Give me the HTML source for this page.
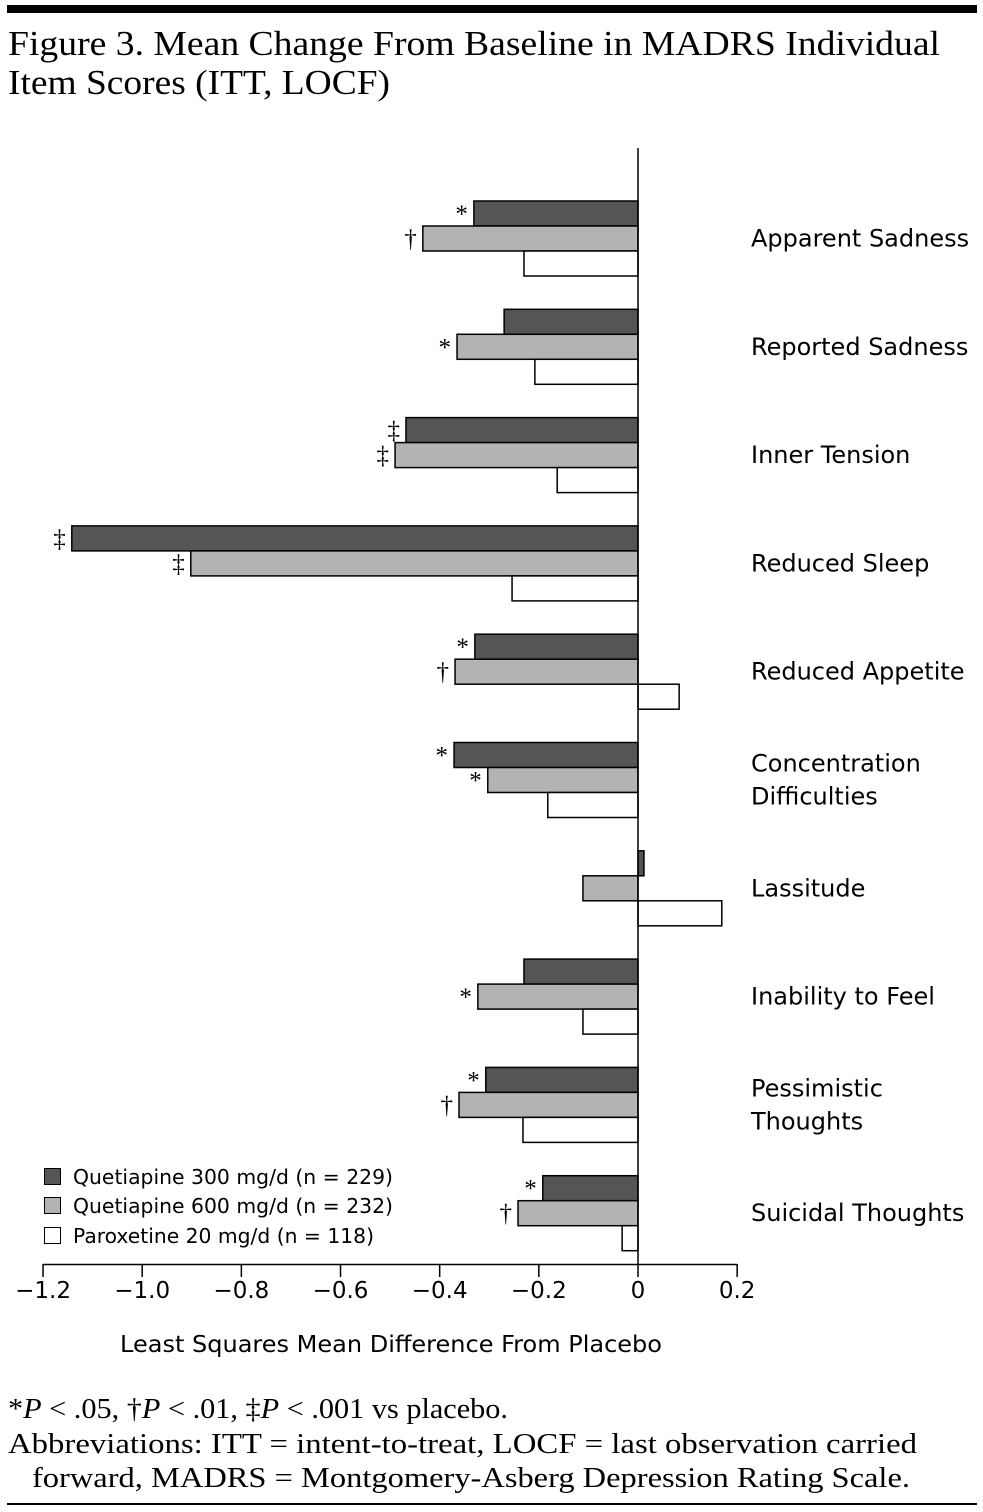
<!DOCTYPE html>
<html><head><meta charset="utf-8">
<style>
body{margin:0;background:#fff;width:983px;height:1512px;overflow:hidden;}
svg{display:block}
.serif{font-family:"Liberation Serif",serif;}
.sans{font-family:"DejaVu Sans","Liberation Sans",sans-serif;}
</style></head><body>
<svg id="chart" width="983" height="1512">
<rect x="7" y="5" width="970" height="8" fill="#000"/>
<text class="serif" x="8" y="55" font-size="35" textLength="932" lengthAdjust="spacingAndGlyphs">Figure 3. Mean Change From Baseline in MADRS Individual</text>
<text class="serif" x="8" y="94" font-size="35" textLength="382" lengthAdjust="spacingAndGlyphs">Item Scores (ITT, LOCF)</text>
<g id="plot"></g>
<g>
<rect x="44.5" y="1168.5" width="16" height="16" fill="#555" stroke="#000"/>
<text class="sans" x="73" y="1184" font-size="20" textLength="320" lengthAdjust="spacingAndGlyphs">Quetiapine 300 mg/d (n = 229)</text>
<rect x="44.5" y="1197.5" width="16" height="16" fill="#b3b3b3" stroke="#000"/>
<text class="sans" x="73" y="1213" font-size="20" textLength="320" lengthAdjust="spacingAndGlyphs">Quetiapine 600 mg/d (n = 232)</text>
<rect x="44.5" y="1227.5" width="16" height="16" fill="#fff" stroke="#000"/>
<text class="sans" x="73" y="1243" font-size="20" textLength="301" lengthAdjust="spacingAndGlyphs">Paroxetine 20 mg/d (n = 118)</text>
</g>
<text class="sans" x="120" y="1352" font-size="23" textLength="542" lengthAdjust="spacingAndGlyphs">Least Squares Mean Difference From Placebo</text>
<text class="serif" x="8" y="1418" font-size="29" textLength="500" lengthAdjust="spacingAndGlyphs">*<tspan font-style="italic">P</tspan> &lt; .05, †<tspan font-style="italic">P</tspan> &lt; .01, ‡<tspan font-style="italic">P</tspan> &lt; .001 vs placebo.</text>
<text class="serif" x="8" y="1453" font-size="29" textLength="909" lengthAdjust="spacingAndGlyphs">Abbreviations: ITT = intent-to-treat, LOCF = last observation carried</text>
<text class="serif" x="32" y="1487" font-size="29" textLength="878" lengthAdjust="spacingAndGlyphs">forward, MADRS = Montgomery-Asberg Depression Rating Scale.</text>
<rect x="7" y="1503" width="970" height="2" fill="#000"/>
</svg>
<script>
const categories=[["Apparent Sadness"],["Reported Sadness"],["Inner Tension"],["Reduced Sleep"],["Reduced Appetite"],["Concentration","Difficulties"],["Lassitude"],["Inability to Feel"],["Pessimistic","Thoughts"],["Suicidal Thoughts"]];
const q300=[-0.331,-0.27,-0.468,-1.142,-0.329,-0.371,0.012,-0.23,-0.307,-0.192];
const q600=[-0.434,-0.365,-0.49,-0.902,-0.369,-0.303,-0.111,-0.323,-0.361,-0.242];
const parox=[-0.23,-0.208,-0.163,-0.254,0.083,-0.182,0.169,-0.111,-0.232,-0.032];
const sig300=["*","","‡","‡","*","*","","","*","*"];
const sig600=["†","*","‡","‡","†","*","","*","†","†"];
const ticks=[-1.2,-1.0,-0.8,-0.6,-0.4,-0.2,0,0.2];
const tickLabels=["\u22121.2","\u22121.0","\u22120.8","\u22120.6","\u22120.4","\u22120.2","0","0.2"];
const NS="http://www.w3.org/2000/svg";
const g=document.getElementById('plot');
const x=v=>638+v*495.8;
const yTop=i=>201+i*108.3;
const BH=25;
function mk(t,a,txt){const e=document.createElementNS(NS,t);for(const k in a)e.setAttribute(k,a[k]);if(txt!=null)e.textContent=txt;g.appendChild(e);return e;}
const series=[[q300,"#555",sig300],[q600,"#b3b3b3",sig600],[parox,"#fff",null]];
categories.forEach((c,i)=>{
 series.forEach((s,j)=>{
  const v=s[0][i],y=yTop(i)+j*BH;
  const r=mk('rect',{x:Math.min(x(v),x(0)),y:y,width:Math.abs(x(v)-x(0)),height:BH,fill:s[1],stroke:'#000','stroke-width':1.5});
  
  
  if(s[2]&&s[2][i]){
   const t=mk('text',{x:Math.min(x(v),x(0))-6,y:y+21,'font-size':25,'text-anchor':'end','font-family':'Liberation Serif, serif'},s[2][i]);
   
   
  }
 });
 const cy=yTop(i)+37.5+8;
 c.forEach((line,k)=>{
  const t=mk('text',{x:751,y:cy+(k-(c.length-1)/2)*33,'font-size':24,'font-family':'DejaVu Sans, Liberation Sans, sans-serif'},line);
  
  
 });
});
const ax=mk('line',{x1:638,y1:148,x2:638,y2:1265,stroke:'#000','stroke-width':1.5});


const xa=mk('line',{x1:x(-1.2),y1:1264.5,x2:x(0.2),y2:1264.5,stroke:'#000','stroke-width':1.5});


ticks.forEach((v,i)=>{
 const l=mk('line',{x1:x(v),y1:1264,x2:x(v),y2:1277,stroke:'#000','stroke-width':1.5});
 
 
 const t=mk('text',{x:x(v),y:1298,'font-size':23,'text-anchor':'middle','font-family':'DejaVu Sans, Liberation Sans, sans-serif'},tickLabels[i]);
 
 
});
</script>
</body></html>
